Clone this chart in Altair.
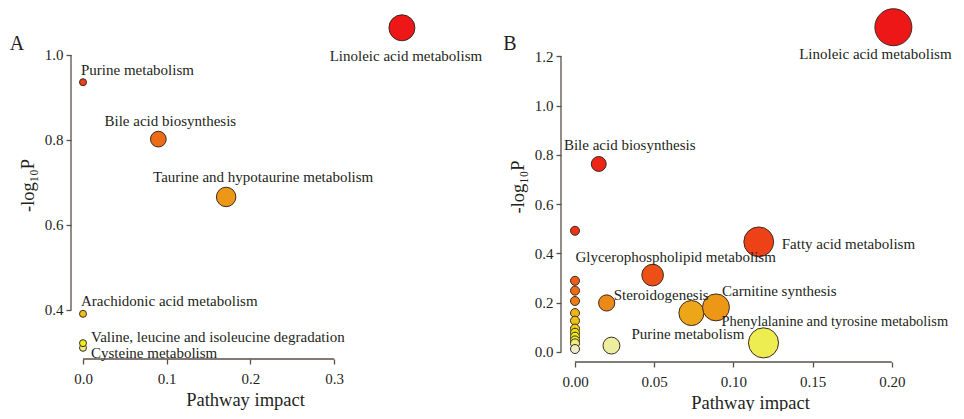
import altair as alt
import pandas as pd
import colorsys

# ---------------- Panel A data ----------------
names_a = ["Cysteine metabolism", "Valine, leucine and isoleucine degradation",
           "Arachidonic acid metabolism", "Purine metabolism",
           "Bile acid biosynthesis", "Taurine and hypotaurine metabolism",
           "Linoleic acid metabolism"]
impact_a = [0.0, 0.0, 0.0, 0.0, 0.090, 0.171, 0.381]
logp_a = [0.311, 0.322, 0.391, 0.936, 0.802, 0.666, 1.064]
xticks_a = [0.0, 0.1, 0.2, 0.3]
yticks_a = [0.4, 0.6, 0.8, 1.0]

# ---------------- Panel B data ----------------
names_b = ["", "", "", "", "", "", "", "", "", "", "", "",
           "Bile acid biosynthesis", "Steroidogenesis", "Purine metabolism",
           "Glycerophospholipid metabolism", "", "Carnitine synthesis",
           "Fatty acid metabolism", "Phenylalanine and tyrosine metabolism",
           "Linoleic acid metabolism"]
impact_b = [0.0, 0.0, 0.0, 0.0, 0.0, 0.0, 0.0, 0.0, 0.0, 0.0, 0.0, 0.0,
            0.015, 0.020, 0.023, 0.049, 0.0735, 0.089, 0.116, 0.119, 0.201]
logp_b = [0.492, 0.289, 0.249, 0.207, 0.158, 0.127, 0.095, 0.078, 0.062, 0.047, 0.035, 0.012,
          0.763, 0.199, 0.026, 0.312, 0.158, 0.181, 0.447, 0.037, 1.318]
xticks_b = [0.0, 0.05, 0.10, 0.15, 0.20]
yticks_b = [0.0, 0.2, 0.4, 0.6, 0.8, 1.0, 1.2]

# label placement (pixel offsets from the point, alignment, font size)
labels_a = {
    "Linoleic acid metabolism": (4, 28, "center", 15),
    "Purine metabolism": (-2, -12, "left", 15),
    "Bile acid biosynthesis": (12, -18, "center", 15),
    "Taurine and hypotaurine metabolism": (37, -20, "center", 15),
    "Arachidonic acid metabolism": (-2, -13, "left", 15),
    "Valine, leucine and isoleucine degradation": (8, -6, "left", 15),
    "Cysteine metabolism": (8, 5, "left", 15),
}
labels_b = {
    "Linoleic acid metabolism": (-18, 27, "center", 15),
    "Bile acid biosynthesis": (31, -19, "center", 15),
    "Fatty acid metabolism": (23, 2, "left", 15),
    "Glycerophospholipid metabolism": (23, -18, "center", 15),
    "Steroidogenesis": (7, -8, "left", 15),
    "Carnitine synthesis": (6, -16, "left", 15),
    "Phenylalanine and tyrosine metabolism": (-42, -21, "left", 14.4),
    "Purine metabolism": (20, -12, "left", 15),
}

FONT = "Liberation Serif, Times New Roman, serif"
TXT = "#231f20"
AXC = "#5a5048"


def heat_palette(n):
    """R heat.colors(n), reversed (low -> high), slightly muted like print."""
    j = n // 4
    i = n - j
    cols = []
    for k in range(i):
        h = (1 / 6) * k / (i - 1) if i > 1 else 0
        cols.append((h, 1.0, 1.0))
    for k in range(j):
        s = (1 - 1 / (2 * j)) - k * ((1 - 1 / j) / (j - 1) if j > 1 else 0)
        cols.append((1 / 6, s, 1.0))
    out = []
    for h, s, v in cols:
        r, g, b = colorsys.hsv_to_rgb(h, min(1.0, s * 0.82 + 0.08), v * 0.93)
        out.append("#%02x%02x%02x" % (int(r * 255), int(g * 255), int(b * 255)))
    return out[::-1]


def panel(names, impact, logp, xticks, yticks, xfmt, xdom, ydom, w, h,
          size_range, size_exp, labels, letter, letter_pos):
    df = pd.DataFrame({"pathway": names, "impact": impact, "logp": logp,
                       "ord": list(range(len(names)))})
    n = len(names)
    pal = heat_palette(n)

    def xenc(field):
        return alt.X(field, type="quantitative",
                     scale=alt.Scale(domain=xdom, nice=False, zero=False),
                     axis=alt.Axis(values=xticks, format=xfmt, domain=False, grid=False,
                                   title="Pathway impact"))

    def yenc(field):
        return alt.Y(field, type="quantitative",
                     scale=alt.Scale(domain=ydom, nice=False, zero=False),
                     axis=alt.Axis(values=yticks, format=".1f", domain=False, grid=False,
                                   title="-log₁₀P"))

    base = alt.Chart(df)
    pts = base.transform_window(
        rank="row_number()", sort=[alt.SortField("logp", order="ascending")]
    ).mark_circle(opacity=1, stroke="#3b2a22", strokeWidth=1).encode(
        x=xenc("impact"), y=yenc("logp"),
        size=alt.Size("impact:Q", scale=alt.Scale(type="pow", exponent=size_exp,
                                                  domain=[0, max(impact)], range=size_range,
                                                  zero=False), legend=None),
        color=alt.Color("rank:O", scale=alt.Scale(domain=list(range(1, n + 1)), range=pal),
                        legend=None),
        order=alt.Order("ord:Q"),
    )

    layers = []
    # axis lines spanning first..last tick (R-style detached axes)
    xline = alt.Chart(pd.DataFrame({"a": [xticks[0]], "b": [xticks[-1]]})).mark_rule(
        color=AXC, strokeWidth=1.3).encode(x=xenc("a"), x2="b", y=alt.value(h))
    yline = alt.Chart(pd.DataFrame({"a": [yticks[0]], "b": [yticks[-1]]})).mark_rule(
        color=AXC, strokeWidth=1.3).encode(y=yenc("a"), y2="b", x=alt.value(0))
    layers += [xline, yline, pts]

    for name, (dx, dy, al, fs) in labels.items():
        layers.append(
            base.transform_filter(alt.datum.pathway == name).mark_text(
                dx=dx, dy=dy, align=al, baseline="middle", font=FONT, fontSize=fs,
                color=TXT).encode(x=xenc("impact"), y=yenc("logp"), text="pathway:N"))

    let = alt.Chart(pd.DataFrame({"t": [letter]})).mark_text(
        font=FONT, fontSize=20, color=TXT, align="center", baseline="middle").encode(
        x=alt.value(letter_pos[0]), y=alt.value(letter_pos[1]), text="t:N")
    layers.append(let)

    return alt.layer(*layers).properties(width=w, height=h).resolve_scale(
        size="independent", color="independent")


chart_a = panel(names_a, impact_a, logp_a, xticks_a, yticks_a, ".1f",
                [-0.01434, 0.4014], [0.2847, 1.1035], 348, 348,
                [49, 676], 0.8, labels_a, "A", (-54, 33))
chart_b = panel(names_b, impact_b, logp_b, xticks_b, yticks_b, ".2f",
                [-0.00884, 0.2298], [-0.0406, 1.3838], 378, 351,
                [81, 1369], 0.85, labels_b, "B", (-51, 33))

chart = alt.hconcat(chart_a, chart_b, spacing=142, bounds="flush").resolve_scale(
    x="independent", y="independent", size="independent", color="independent"
).properties(
    padding={"left": 1, "top": -2, "right": 0, "bottom": -1}
).configure_view(stroke=None).configure_axis(
    labelFont=FONT, labelFontSize=15, labelColor=TXT,
    titleFont=FONT, titleFontSize=18.5, titleFontWeight="normal", titleColor=TXT,
    tickColor=AXC, tickSize=5, tickWidth=1.3,
).configure_axisX(labelPadding=7, titlePadding=4).configure_axisY(
    labelPadding=3, titlePadding=7)

chart.save("out.html", embed_options={"renderer": "svg", "actions": False})
